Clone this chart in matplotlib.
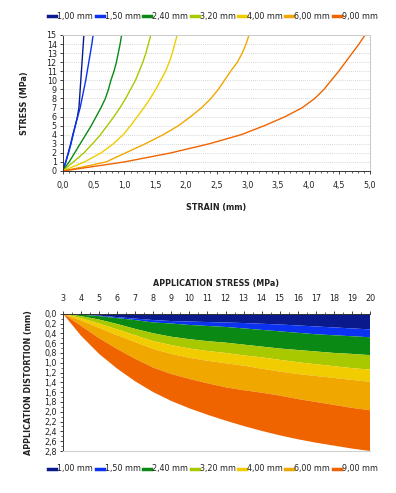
import matplotlib
matplotlib.use("Agg")
import matplotlib.pyplot as plt
from matplotlib.ticker import FuncFormatter, MultipleLocator
from matplotlib.lines import Line2D

# ---------------- data ----------------
labels = ["1,00 mm", "1,50 mm", "2,40 mm", "3,20 mm", "4,00 mm", "6,00 mm", "9,00 mm"]
colors = ["#0a1a8c", "#0a32f0", "#0a8a14", "#a8c800", "#f0cc00", "#f0a800", "#f06400"]

# top chart: stress (MPa) grid, strain (mm) per thickness
stress_grid = [0, 0.5, 1, 2, 3, 4, 5, 6, 7, 8, 9, 10, 11, 12, 13, 14, 15]
strain_100 = [0, 0.02, 0.045, 0.085, 0.125, 0.16, 0.20, 0.235, 0.26, 0.27, 0.28, 0.29, 0.30, 0.31, 0.32, 0.33, 0.34]
strain_150 = [0, 0.02, 0.045, 0.09, 0.13, 0.165, 0.20, 0.24, 0.28, 0.31, 0.34, 0.37, 0.395, 0.42, 0.445, 0.47, 0.49]
strain_240 = [0, 0.045, 0.10, 0.19, 0.28, 0.37, 0.46, 0.54, 0.62, 0.69, 0.74, 0.78, 0.83, 0.87, 0.90, 0.93, 0.955]
strain_320 = [0, 0.08, 0.17, 0.34, 0.48, 0.61, 0.72, 0.83, 0.93, 1.02, 1.10, 1.18, 1.24, 1.30, 1.35, 1.39, 1.43]
strain_400 = [0, 0.17, 0.35, 0.62, 0.82, 0.98, 1.10, 1.21, 1.32, 1.42, 1.51, 1.59, 1.67, 1.73, 1.78, 1.82, 1.86]
strain_600 = [0, 0.36, 0.70, 1.02, 1.34, 1.63, 1.88, 2.08, 2.26, 2.41, 2.53, 2.63, 2.73, 2.84, 2.92, 2.98, 3.03]
strain_900 = [0, 0.50, 1.00, 1.76, 2.38, 2.90, 3.28, 3.62, 3.90, 4.10, 4.25, 4.37, 4.49, 4.60, 4.71, 4.82, 4.92]
strains = [strain_100, strain_150, strain_240, strain_320, strain_400, strain_600, strain_900]

# bottom chart: application stress (MPa) and distortion (mm) boundaries per thickness
app_stress = [3, 4, 5, 6, 7, 8, 9, 10, 11, 12, 13, 14, 15, 16, 17, 18, 19, 20]
dist_100 = [0, 0.015, 0.04, 0.07, 0.10, 0.13, 0.15, 0.16, 0.17, 0.18, 0.19, 0.205, 0.22, 0.24, 0.26, 0.28, 0.30, 0.32]
dist_150 = [0, 0.02, 0.05, 0.09, 0.13, 0.18, 0.20, 0.23, 0.25, 0.27, 0.30, 0.33, 0.36, 0.39, 0.42, 0.44, 0.46, 0.48]
dist_240 = [0, 0.05, 0.12, 0.21, 0.31, 0.40, 0.47, 0.52, 0.56, 0.59, 0.63, 0.67, 0.71, 0.74, 0.77, 0.80, 0.82, 0.845]
dist_320 = [0, 0.09, 0.20, 0.32, 0.44, 0.56, 0.64, 0.71, 0.76, 0.80, 0.85, 0.89, 0.94, 0.99, 1.03, 1.07, 1.11, 1.14]
dist_400 = [0, 0.14, 0.29, 0.44, 0.58, 0.72, 0.82, 0.90, 0.96, 1.01, 1.06, 1.12, 1.18, 1.23, 1.27, 1.31, 1.35, 1.39]
dist_600 = [0, 0.25, 0.50, 0.72, 0.92, 1.10, 1.23, 1.33, 1.42, 1.50, 1.56, 1.61, 1.67, 1.74, 1.80, 1.86, 1.92, 1.97]
dist_900 = [0, 0.45, 0.82, 1.12, 1.38, 1.60, 1.78, 1.93, 2.06, 2.18, 2.29, 2.39, 2.48, 2.56, 2.63, 2.69, 2.75, 2.80]
dists = [dist_100, dist_150, dist_240, dist_320, dist_400, dist_600, dist_900]

# ---------------- figure ----------------
plt.rcParams['font.family'] = ['DejaVu Sans']
fs = 5.8
text_col = "#222222"
comma1 = FuncFormatter(lambda v, p: f"{v:.1f}".replace('.', ','))

fig = plt.figure(figsize=(3.96, 4.93), dpi=100)

# ---- top chart ----
ax1 = fig.add_axes([63/396, 1 - 171/493, 307/396, 136/493])
for s, c in zip(strains, colors):
    ax1.plot(s, stress_grid, color=c, lw=1.0)
ax1.set_xlim(0, 5.0)
ax1.set_ylim(0, 15)
ax1.xaxis.set_major_locator(MultipleLocator(0.5))
ax1.xaxis.set_minor_locator(MultipleLocator(0.1))
ax1.yaxis.set_major_locator(MultipleLocator(1))
ax1.xaxis.set_major_formatter(comma1)
ax1.grid(axis='y', which='major', color='#c8c8c8', lw=0.6, ls=(0, (1, 1.5)))
ax1.tick_params(axis='both', which='major', labelsize=fs, length=2.5, width=0.6,
                colors=text_col, pad=2)
ax1.tick_params(axis='x', which='minor', length=1.5, width=0.5, colors=text_col)
ax1.tick_params(axis='x', which='major', pad=5)
for sp in ['top', 'right']:
    ax1.spines[sp].set_color('#cccccc')
    ax1.spines[sp].set_linewidth(0.8)
for sp in ['left', 'bottom']:
    ax1.spines[sp].set_color('#333333')
    ax1.spines[sp].set_linewidth(0.7)
ax1.set_xlabel("STRAIN (mm)", fontsize=fs, fontweight='bold', color=text_col, labelpad=9)
ax1.set_ylabel("STRESS (MPa)", fontsize=fs, fontweight='bold', color=text_col, labelpad=13)

handles = [Line2D([0], [0], color=c, lw=2.5) for c in colors]
leg_kw = dict(loc='center', ncol=7, fontsize=fs, frameon=False, handlelength=1.0,
              handletextpad=0.12, columnspacing=0.3, labelcolor=text_col)
fig.legend(handles, labels, bbox_to_anchor=(213/396, 1 - 16/493), **leg_kw)

# ---- bottom chart ----
ax2 = fig.add_axes([63/396, 1 - 451/493, 307/396, 137.3/493])
prev = [0] * len(app_stress)
for d, c in zip(dists, colors):
    ax2.fill_between(app_stress, prev, d, color=c, lw=0, edgecolor='none')
    prev = d
ax2.set_xlim(3, 20)
ax2.set_ylim(2.8, 0)
ax2.xaxis.tick_top()
ax2.xaxis.set_label_position('top')
ax2.xaxis.set_major_locator(MultipleLocator(1))
ax2.xaxis.set_minor_locator(MultipleLocator(0.5))
ax2.yaxis.set_major_locator(MultipleLocator(0.2))
ax2.yaxis.set_minor_locator(MultipleLocator(0.1))
ax2.yaxis.set_major_formatter(comma1)
ax2.tick_params(axis='both', which='major', labelsize=fs, length=2.5, width=0.6,
                colors=text_col, pad=2)
ax2.tick_params(axis='both', which='minor', length=1.5, width=0.5, colors=text_col)
ax2.tick_params(axis='x', which='major', pad=5)
ax2.spines['bottom'].set_color('#d0d0d0')
ax2.spines['bottom'].set_linewidth(0.8)
ax2.spines['right'].set_visible(False)
for sp in ['left', 'top']:
    ax2.spines[sp].set_color('#333333')
    ax2.spines[sp].set_linewidth(0.7)
ax2.set_xlabel("APPLICATION STRESS (MPa)", fontsize=fs, fontweight='bold',
               color=text_col, labelpad=6)
ax2.set_ylabel("APPLICATION DISTORTION (mm)", fontsize=fs, fontweight='bold',
               color=text_col, labelpad=8)

fig.legend(handles, labels, bbox_to_anchor=(213/396, 1 - 469/493), **leg_kw)

fig.savefig("out.png", dpi=100, facecolor='white')
